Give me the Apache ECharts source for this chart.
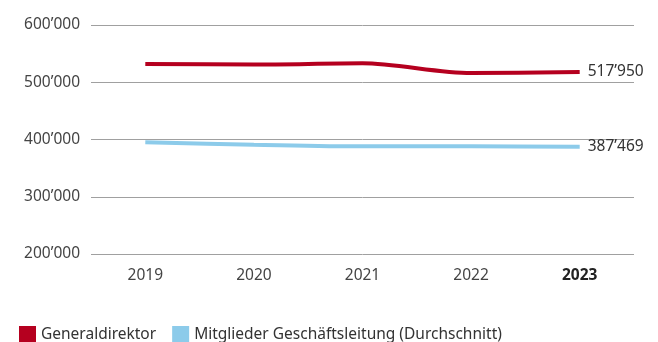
<!DOCTYPE html>
<html>
<head>
<meta charset="utf-8">
<script src="https://cdn.jsdelivr.net/npm/echarts@6/dist/echarts.min.js"></script>
<style>
  html, body { margin: 0; padding: 0; background: #fff; }
  #chart { width: 658px; height: 342px; }
</style>
</head>
<body>
<div id="chart"></div>
<script>
// Daten
const years = ["2019", "2020", "2021", "2022", "2023"];
const generaldirektor = [532000, 531000, 533000, 516000, 517950];
const geschaeftsleitung = [395000, 391000, 388000, 388000, 387469];
const yTicks = [200000, 300000, 400000, 500000, 600000];

const FONT = "Noto Sans";
const FS = 15.5;
const fmt = (v) => String(Math.round(v)).replace(/\B(?=(\d{3})+(?!\d))/g, "’");

const chart = echarts.init(document.getElementById("chart"));

function endLabel() {
  return {
    show: true,
    formatter: (p) => fmt(p.value),
    fontFamily: FONT,
    fontSize: FS,
    color: "#333",
    distance: 8
  };
}

chart.setOption({
  animation: false,
  textStyle: { fontFamily: FONT },
  grid: { left: 91, right: 24, top: 25, bottom: 88 },
  legend: {
    left: 14,
    bottom: -6,
    itemWidth: 17,
    itemHeight: 17,
    itemGap: 16,
    icon: "rect",
    textStyle: { fontFamily: FONT, fontSize: FS, color: "#333" },
    data: ["Generaldirektor", "Mitglieder Geschäftsleitung (Durchschnitt)"]
  },
  xAxis: {
    type: "category",
    data: years,
    boundaryGap: true,
    axisLine: { show: false },
    axisTick: { show: false },
    axisLabel: {
      margin: 14,
      fontSize: FS,
      color: "#444",
      fontFamily: FONT,
      formatter: (v) => (v === years[years.length - 1] ? "{b|" + v + "}" : v),
      rich: { b: { fontWeight: "bold", fontSize: FS, color: "#222", fontFamily: FONT } }
    }
  },
  yAxis: {
    type: "value",
    min: yTicks[0],
    max: yTicks[yTicks.length - 1],
    interval: 100000,
    axisLine: { show: false },
    axisTick: { show: false },
    splitLine: { lineStyle: { color: "#a0a0a0", width: 1 } },
    axisLabel: {
      margin: 11,
      fontSize: FS,
      color: "#444",
      fontFamily: FONT,
      formatter: fmt
    }
  },
  series: [
    {
      name: "Generaldirektor",
      type: "line",
      data: generaldirektor,
      smooth: 0.3,
      symbol: "none",
      lineStyle: { color: "#b5001f", width: 4 },
      itemStyle: { color: "#b5001f" },
      endLabel: endLabel()
    },
    {
      name: "Mitglieder Geschäftsleitung (Durchschnitt)",
      type: "line",
      data: geschaeftsleitung,
      smooth: 0.3,
      symbol: "none",
      lineStyle: { color: "#8ccbea", width: 4 },
      itemStyle: { color: "#8ccbea" },
      endLabel: endLabel()
    }
  ]
});
</script>
</body>
</html>
